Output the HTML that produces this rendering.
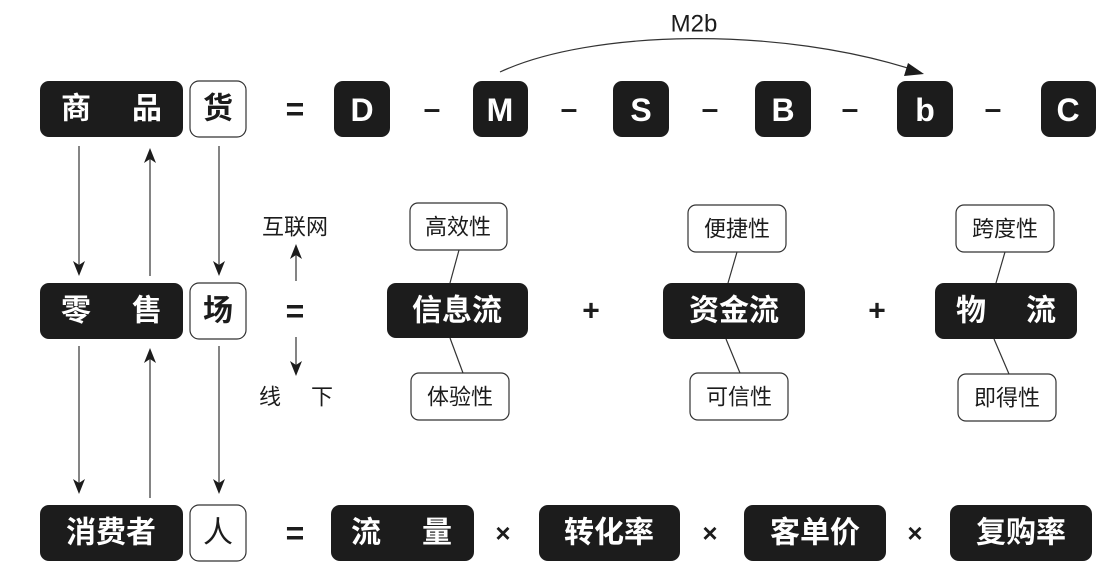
<!DOCTYPE html>
<html><head><meta charset="utf-8"><style>
html,body{margin:0;padding:0;background:#fff;}
svg{display:block;}
.b{fill:#1c1c1c;}
.w{fill:#fff;stroke:#333;stroke-width:1.2;}
.t{font-family:"Liberation Sans","Noto Sans CJK SC",sans-serif;font-weight:bold;fill:#fff;text-anchor:middle;dominant-baseline:central;}
.k{font-family:"Liberation Sans","Noto Sans CJK SC",sans-serif;fill:#1c1c1c;text-anchor:middle;dominant-baseline:central;}
.l{stroke:#333;stroke-width:1.2;fill:none;}
</style></head><body>
<svg width="1101" height="585" viewBox="0 0 1101 585" xmlns="http://www.w3.org/2000/svg">

<!-- Row 1 -->
<rect class="b" x="40" y="81" width="143" height="56" rx="9"/>
<text class="t" x="76" y="109" font-size="30">商</text><text class="t" x="147" y="109" font-size="30">品</text>
<rect class="w" x="190" y="81" width="56" height="56" rx="9"/>
<text class="k" x="218" y="109" font-size="30" font-weight="bold">货</text>
<text class="k" x="295" y="109" font-size="32" font-weight="bold">=</text>
<rect class="b" x="334" y="81" width="56" height="56" rx="9"/><text class="t" x="362" y="110" font-size="32">D</text>
<text class="k" x="432" y="109" font-size="30" font-weight="bold">–</text>
<rect class="b" x="473" y="81" width="55" height="56" rx="9"/><text class="t" x="500" y="110" font-size="32">M</text>
<text class="k" x="569" y="109" font-size="30" font-weight="bold">–</text>
<rect class="b" x="613" y="81" width="56" height="56" rx="9"/><text class="t" x="641" y="110" font-size="32">S</text>
<text class="k" x="710" y="109" font-size="30" font-weight="bold">–</text>
<rect class="b" x="755" y="81" width="56" height="56" rx="9"/><text class="t" x="783" y="110" font-size="32">B</text>
<text class="k" x="850" y="109" font-size="30" font-weight="bold">–</text>
<rect class="b" x="897" y="81" width="56" height="56" rx="9"/><text class="t" x="925" y="110" font-size="32">b</text>
<text class="k" x="993" y="109" font-size="30" font-weight="bold">–</text>
<rect class="b" x="1041" y="81" width="55" height="56" rx="9"/><text class="t" x="1068" y="110" font-size="32">C</text>

<text class="k" x="694" y="24" font-size="24">M2b</text>
<path class="l" d="M500,72 C590,30 780,25 920,72"/>
<path d="M908,63 L924,74 L904,76 Z" fill="#1c1c1c"/>

<!-- vertical arrows -->
<line class="l" x1="79" y1="146" x2="79" y2="268"/><path d="M73,261 L79,276 L85,261 L79,265Z" fill="#1c1c1c"/>
<line class="l" x1="150" y1="276" x2="150" y2="156"/><path d="M144,163 L150,148 L156,163 L150,159Z" fill="#1c1c1c"/>
<line class="l" x1="219" y1="146" x2="219" y2="268"/><path d="M213,261 L219,276 L225,261 L219,265Z" fill="#1c1c1c"/>

<line class="l" x1="79" y1="346" x2="79" y2="486"/><path d="M73,479 L79,494 L85,479 L79,483Z" fill="#1c1c1c"/>
<line class="l" x1="150" y1="498" x2="150" y2="356"/><path d="M144,363 L150,348 L156,363 L150,359Z" fill="#1c1c1c"/>
<line class="l" x1="219" y1="346" x2="219" y2="486"/><path d="M213,479 L219,494 L225,479 L219,483Z" fill="#1c1c1c"/>

<!-- Row 2 -->
<rect class="b" x="40" y="283" width="143" height="56" rx="9"/>
<text class="t" x="76" y="311" font-size="30">零</text><text class="t" x="147" y="311" font-size="30">售</text>
<rect class="w" x="190" y="283" width="56" height="56" rx="9"/>
<text class="k" x="218" y="311" font-size="30" font-weight="bold">场</text>
<text class="k" x="295" y="311" font-size="32" font-weight="bold">=</text>

<text class="k" x="295" y="227" font-size="22">互联网</text>
<line class="l" x1="296" y1="281" x2="296" y2="252"/><path d="M290,259 L296,244 L302,259 L296,255Z" fill="#1c1c1c"/>
<line class="l" x1="296" y1="337" x2="296" y2="368"/><path d="M290,361 L296,376 L302,361 L296,365Z" fill="#1c1c1c"/>
<text class="k" x="270" y="397" font-size="22">线</text><text class="k" x="322" y="397" font-size="22">下</text>

<line class="l" x1="459" y1="250" x2="450" y2="283"/>
<line class="l" x1="450" y1="338" x2="463" y2="373"/>
<rect class="w" x="410" y="203" width="97" height="47" rx="8"/><text class="k" x="458" y="227" font-size="22">高效性</text>
<rect class="b" x="387" y="283" width="141" height="55" rx="9"/><text class="t" x="457" y="311" font-size="30">信息流</text>
<rect class="w" x="411" y="373" width="98" height="47" rx="8"/><text class="k" x="460" y="397" font-size="22">体验性</text>

<text class="k" x="591" y="311" font-size="30" font-weight="bold">+</text>

<line class="l" x1="737" y1="252" x2="728" y2="283"/>
<line class="l" x1="726" y1="339" x2="740" y2="373"/>
<rect class="w" x="688" y="205" width="98" height="47" rx="8"/><text class="k" x="737" y="229" font-size="22">便捷性</text>
<rect class="b" x="663" y="283" width="142" height="56" rx="9"/><text class="t" x="734" y="311" font-size="30">资金流</text>
<rect class="w" x="690" y="373" width="98" height="47" rx="8"/><text class="k" x="739" y="397" font-size="22">可信性</text>

<text class="k" x="877" y="311" font-size="30" font-weight="bold">+</text>

<line class="l" x1="1005" y1="252" x2="996" y2="283"/>
<line class="l" x1="994" y1="339" x2="1009" y2="374"/>
<rect class="w" x="956" y="205" width="98" height="47" rx="8"/><text class="k" x="1005" y="229" font-size="22">跨度性</text>
<rect class="b" x="935" y="283" width="142" height="56" rx="9"/>
<text class="t" x="971" y="311" font-size="30">物</text><text class="t" x="1041" y="311" font-size="30">流</text>
<rect class="w" x="958" y="374" width="98" height="47" rx="8"/><text class="k" x="1007" y="398" font-size="22">即得性</text>

<!-- Row 3 -->
<rect class="b" x="40" y="505" width="143" height="56" rx="9"/>
<text class="t" x="111" y="533" font-size="30">消费者</text>
<rect class="w" x="190" y="505" width="56" height="56" rx="9"/>
<text class="k" x="218" y="533" font-size="30">人</text>
<text class="k" x="295" y="533" font-size="32" font-weight="bold">=</text>
<rect class="b" x="331" y="505" width="143" height="56" rx="9"/>
<text class="t" x="366" y="533" font-size="30">流</text><text class="t" x="437" y="533" font-size="30">量</text>
<text class="k" x="503" y="533" font-size="26" font-weight="bold">×</text>
<rect class="b" x="539" y="505" width="141" height="56" rx="9"/><text class="t" x="609" y="533" font-size="30">转化率</text>
<text class="k" x="710" y="533" font-size="26" font-weight="bold">×</text>
<rect class="b" x="744" y="505" width="142" height="56" rx="9"/><text class="t" x="815" y="533" font-size="30">客单价</text>
<text class="k" x="915" y="533" font-size="26" font-weight="bold">×</text>
<rect class="b" x="950" y="505" width="142" height="56" rx="9"/><text class="t" x="1021" y="533" font-size="30">复购率</text>
</svg>
</body></html>
